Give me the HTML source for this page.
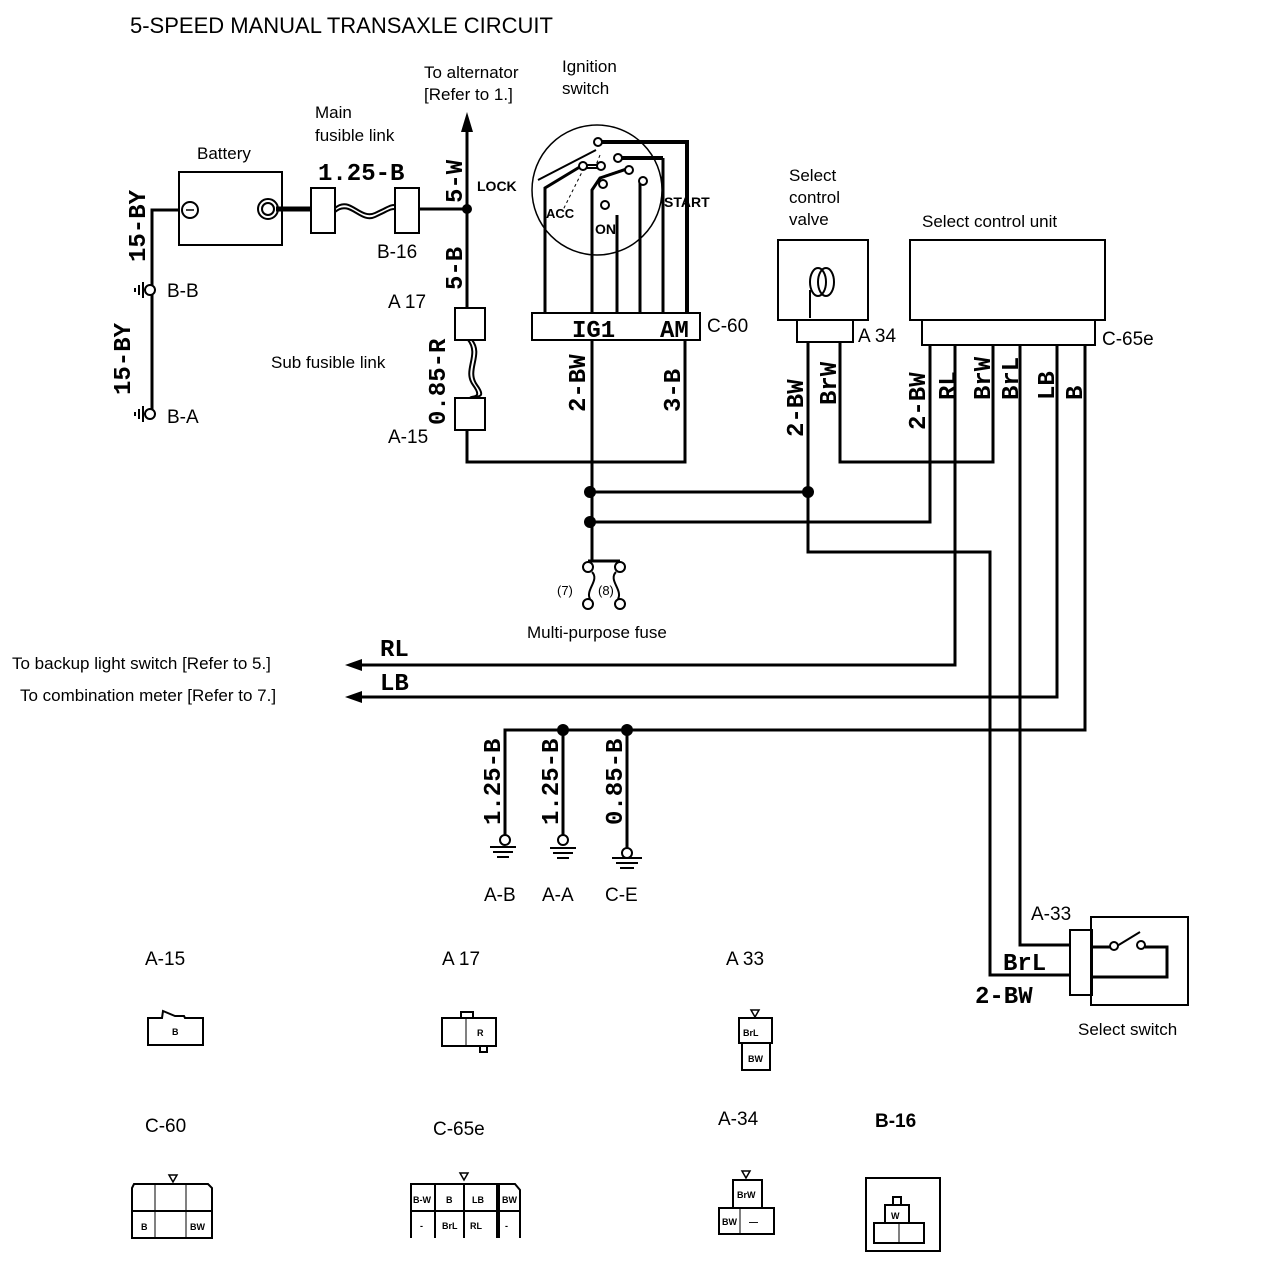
<!DOCTYPE html>
<html><head><meta charset="utf-8"><style>
html,body{margin:0;padding:0;background:#fff;}
svg{display:block;}
.t{font-family:"Liberation Sans",sans-serif;font-size:19px;fill:#000;}
.s{font-family:"Liberation Sans",sans-serif;font-size:17px;fill:#000;}
.w{font-family:"Liberation Mono",monospace;font-weight:bold;font-size:24px;fill:#000;}
.c{font-family:"Liberation Sans",sans-serif;font-size:9px;fill:#000;font-weight:bold;}
</style></head><body>
<svg width="1264" height="1278" viewBox="0 0 1264 1278" xmlns="http://www.w3.org/2000/svg">
<rect width="1264" height="1278" fill="#fff"/>
<text x="130" y="33" class="t" style="font-size:22px">5-SPEED MANUAL TRANSAXLE CIRCUIT</text>

<g fill="none" stroke="#000" stroke-width="3">
<rect x="179" y="172" width="103" height="73" stroke-width="2"/>
<circle cx="190" cy="210" r="8" stroke-width="2"/>
<line x1="186" y1="210" x2="194" y2="210" stroke-width="1.5"/>
<circle cx="268" cy="209" r="10" stroke-width="2"/>
<circle cx="268" cy="209" r="6" stroke-width="2"/>
<line x1="276" y1="209" x2="312" y2="209" stroke-width="5"/>
<polyline points="180,210 152,210 152,410"/>
<circle cx="150" cy="290" r="5" fill="#fff" stroke-width="2"/>
<circle cx="150" cy="414" r="5" fill="#fff" stroke-width="2"/>
<path d="M143 282v16M139 285v10M135 288v4M143 406v16M139 409v10M135 412v4" stroke-width="2"/>
<rect x="311" y="188" width="24" height="45" stroke-width="2"/>
<rect x="395" y="188" width="24" height="45" stroke-width="2"/>
<path d="M335 208 C350 195,360 220,375 213 S390 205,395 205" stroke-width="2"/>
<path d="M335 212 C350 199,360 224,375 217 S390 209,395 209" stroke-width="2"/>
<line x1="419" y1="209" x2="467" y2="209"/>
<line x1="467" y1="130" x2="467" y2="308"/>
<rect x="455" y="308" width="30" height="32" stroke-width="2"/>
<rect x="455" y="398" width="30" height="32" stroke-width="2"/>
<path d="M468 340 C480 355,462 370,473 385 S470 395,470 398" stroke-width="2"/>
<path d="M472 340 C484 355,466 370,477 385 S474 395,474 398" stroke-width="2"/>
<polyline points="467,430 467,462 685,462 685,340"/>
<circle cx="597" cy="190" r="65" stroke-width="1.5"/>
<polyline points="545,313 545,188 583,165"/>
<polyline points="592,313 592,190 600,178 630,168"/>
<line x1="617" y1="313" x2="617" y2="215"/>
<polyline points="640,313 640,182"/>
<line x1="663" y1="313" x2="663" y2="158"/>
<polyline points="617,158 663,158" stroke-width="4"/>
<polyline points="598,142 687,142 687,313" stroke-width="4"/>
<line x1="538" y1="180" x2="596" y2="150" stroke-width="2"/>
<line x1="584" y1="165" x2="600" y2="165" stroke-width="2"/>
<line x1="587" y1="168" x2="601" y2="168" stroke-width="2"/>
<line x1="605" y1="176" x2="628" y2="168" stroke-width="2"/>
<path d="M584 168 L563 210 M600 155 L596 165" stroke-width="1" stroke-dasharray="3,3"/>
<circle cx="598" cy="142" r="4" fill="#fff" stroke-width="2"/>
<circle cx="618" cy="158" r="4" fill="#fff" stroke-width="2"/>
<circle cx="583" cy="166" r="4" fill="#fff" stroke-width="2"/>
<circle cx="601" cy="166" r="4" fill="#fff" stroke-width="2"/>
<circle cx="603" cy="184" r="4" fill="#fff" stroke-width="2"/>
<circle cx="629" cy="170" r="4" fill="#fff" stroke-width="2"/>
<circle cx="643" cy="181" r="4" fill="#fff" stroke-width="2"/>
<circle cx="605" cy="205" r="4" fill="#fff" stroke-width="2"/>
<rect x="532" y="313" width="168" height="27" stroke-width="2"/>
<line x1="592" y1="340" x2="592" y2="560"/>
<line x1="590" y1="492" x2="808" y2="492"/>
<polyline points="590,522 930,522 930,345"/>
<line x1="588" y1="561" x2="620" y2="561" stroke-width="3"/>
<circle cx="588" cy="567" r="5" fill="#fff" stroke-width="2"/>
<circle cx="620" cy="567" r="5" fill="#fff" stroke-width="2"/>
<circle cx="588" cy="604" r="5" fill="#fff" stroke-width="2"/>
<circle cx="620" cy="604" r="5" fill="#fff" stroke-width="2"/>
<path d="M592 572 C600 580,585 590,590 599 M616 572 C608 580,623 590,618 599" stroke-width="2"/>
<rect x="778" y="240" width="90" height="80" stroke-width="2"/>
<ellipse cx="818" cy="282" rx="8" ry="14" stroke-width="2"/>
<ellipse cx="826" cy="282" rx="8" ry="14" stroke-width="2"/>
<polyline points="810,318 810,290 M834,318 834,290" stroke-width="2"/>
<rect x="797" y="320" width="56" height="22" stroke-width="2"/>
<polyline points="808,342 808,552 990,552 990,975 1070,975"/>
<polyline points="840,342 840,462 993,462 993,345"/>
<rect x="910" y="240" width="195" height="80" stroke-width="2"/>
<rect x="922" y="320" width="173" height="25" stroke-width="2"/>
<polyline points="955,345 955,665 350,665"/>
<polyline points="1057,345 1057,697 350,697"/>
<polyline points="1085,345 1085,730 505,730 505,835"/>
<polyline points="1020,345 1020,945 1070,945"/>
<line x1="563" y1="730" x2="563" y2="835"/>
<line x1="627" y1="730" x2="627" y2="850"/>
<circle cx="505" cy="840" r="5" fill="#fff" stroke-width="2"/>
<circle cx="563" cy="840" r="5" fill="#fff" stroke-width="2"/>
<circle cx="627" cy="853" r="5" fill="#fff" stroke-width="2"/>
<path d="M490 847h26M493 852h20M497 857h12M550 848h26M553 853h20M557 858h12M612 858h30M616 863h22M620 868h14" stroke-width="2"/>
<rect x="1091" y="917" width="97" height="88" stroke-width="2"/>
<rect x="1070" y="930" width="22" height="65" stroke-width="2"/>
<polyline points="1092,947 1110,947"/>
<line x1="1117" y1="946" x2="1140" y2="932" stroke-width="2"/>
<circle cx="1114" cy="946" r="4" fill="#fff" stroke-width="2"/>
<circle cx="1141" cy="945" r="4" fill="#fff" stroke-width="2"/>
<polyline points="1145,947 1167,947 1167,977 1092,977"/>
</g>
<polygon points="467,112 461,132 473,132" fill="#000"/>
<polygon points="345,665 362,659 362,671" fill="#000"/>
<polygon points="345,697 362,691 362,703" fill="#000"/>
<g fill="#000">
<circle cx="467" cy="209" r="5"/><circle cx="590" cy="492" r="6"/><circle cx="590" cy="522" r="6"/>
<circle cx="808" cy="492" r="6"/><circle cx="563" cy="730" r="6"/><circle cx="627" cy="730" r="6"/>
</g>

<text x="197" y="159" class="s">Battery</text>
<text x="315" y="118" class="s">Main</text>
<text x="315" y="141" class="s">fusible link</text>
<text x="318" y="180" class="w">1.25-B</text>
<text x="377" y="258" class="t">B-16</text>
<text x="424" y="78" class="s">To alternator</text>
<text x="424" y="100" class="s">[Refer to 1.]</text>
<text x="562" y="72" class="s">Ignition</text>
<text x="562" y="94" class="s">switch</text>
<text x="477" y="191" class="s" style="font-weight:bold;font-size:14px">LOCK</text>
<text x="546" y="218" class="s" style="font-weight:bold;font-size:13px">ACC</text>
<text x="595" y="234" class="s" style="font-weight:bold;font-size:14px">ON</text>
<text x="664" y="207" class="s" style="font-weight:bold;font-size:14px">START</text>
<text x="572" y="337" class="w">IG1</text>
<text x="660" y="337" class="w">AM</text>
<text x="707" y="332" class="t">C-60</text>
<text x="388" y="308" class="t">A 17</text>
<text x="388" y="443" class="t">A-15</text>
<text x="271" y="368" class="s">Sub fusible link</text>
<text x="167" y="423" class="t">B-A</text>
<text x="167" y="297" class="t">B-B</text>
<text transform="translate(145,262) rotate(-90)" class="w">15-BY</text>
<text transform="translate(130,395) rotate(-90)" class="w">15-BY</text>
<text transform="translate(462,203) rotate(-90)" class="w">5-W</text>
<text transform="translate(462,290) rotate(-90)" class="w">5-B</text>
<text transform="translate(445,425) rotate(-90)" class="w">0.85-R</text>
<text transform="translate(585,412) rotate(-90)" class="w">2-BW</text>
<text transform="translate(680,412) rotate(-90)" class="w">3-B</text>
<text x="789" y="181" class="s">Select</text>
<text x="789" y="203" class="s">control</text>
<text x="789" y="225" class="s">valve</text>
<text x="858" y="342" class="t">A 34</text>
<text x="922" y="227" class="s">Select control unit</text>
<text x="1102" y="345" class="t">C-65e</text>
<text transform="translate(803,437) rotate(-90)" class="w">2-BW</text>
<text transform="translate(836,405) rotate(-90)" class="w">BrW</text>
<text transform="translate(925,430) rotate(-90)" class="w">2-BW</text>
<text transform="translate(955,400) rotate(-90)" class="w">RL</text>
<text transform="translate(990,400) rotate(-90)" class="w">BrW</text>
<text transform="translate(1018,400) rotate(-90)" class="w">BrL</text>
<text transform="translate(1054,400) rotate(-90)" class="w">LB</text>
<text transform="translate(1082,400) rotate(-90)" class="w">B</text>
<text x="527" y="638" class="s">Multi-purpose fuse</text>
<text x="557" y="595" class="s" style="font-size:13px">(7)</text>
<text x="598" y="595" class="s" style="font-size:13px">(8)</text>
<text x="380" y="656" class="w">RL</text>
<text x="380" y="690" class="w">LB</text>
<text x="12" y="669" class="s">To backup light switch [Refer to 5.]</text>
<text x="20" y="701" class="s">To combination meter [Refer to 7.]</text>
<text transform="translate(500,825) rotate(-90)" class="w">1.25-B</text>
<text transform="translate(558,825) rotate(-90)" class="w">1.25-B</text>
<text transform="translate(622,825) rotate(-90)" class="w">0.85-B</text>
<text x="484" y="901" class="t">A-B</text>
<text x="542" y="901" class="t">A-A</text>
<text x="605" y="901" class="t">C-E</text>
<text x="1031" y="920" class="t">A-33</text>
<text x="1003" y="970" class="w">BrL</text>
<text x="975" y="1003" class="w">2-BW</text>
<text x="1078" y="1035" class="s">Select switch</text>

<text x="145" y="965" class="t">A-15</text>
<text x="442" y="965" class="t">A 17</text>
<text x="726" y="965" class="t">A 33</text>
<text x="145" y="1132" class="t">C-60</text>
<text x="433" y="1135" class="t">C-65e</text>
<text x="718" y="1125" class="t">A-34</text>
<text x="875" y="1127" class="t" style="font-weight:bold">B-16</text>
<g fill="none" stroke="#000" stroke-width="2">
<path d="M148 1045 V1018 H162 L163 1011 L175 1016 H184 L185 1018 H203 V1045 Z"/>
<rect x="442" y="1018" width="54" height="28"/>
<rect x="461" y="1012" width="12" height="6"/>
<rect x="480" y="1046" width="7" height="6"/>
<line x1="466" y1="1018" x2="466" y2="1046" stroke-width="1"/>
<rect x="739" y="1018" width="33" height="25"/>
<rect x="742" y="1043" width="28" height="27"/>
<polygon points="751,1010 759,1010 755,1017" stroke-width="1.5"/>
<path d="M132 1238 V1188 L134 1184 H208 L212 1188 V1238 Z"/>
<line x1="132" y1="1211" x2="212" y2="1211"/>
<line x1="155" y1="1184" x2="155" y2="1238" stroke-width="1"/>
<line x1="186" y1="1184" x2="186" y2="1238" stroke-width="1"/>
<polygon points="169,1175 177,1175 173,1182" stroke-width="1.5"/>
<path d="M411 1238 V1184 H499 V1238 M411 1211 H499 M435 1184 V1238 M464 1184 V1238 M497 1184 V1238 M498 1184 H515 L520 1190 V1238 M498 1211 H520"/>
<polygon points="460,1173 468,1173 464,1180" stroke-width="1.5"/>
<rect x="733" y="1180" width="29" height="28"/>
<rect x="719" y="1208" width="55" height="26"/>
<line x1="740" y1="1208" x2="740" y2="1234" stroke-width="1"/>
<polygon points="742,1171 750,1171 746,1178" stroke-width="1.5"/>
<rect x="866" y="1178" width="74" height="73"/>
<rect x="874" y="1223" width="50" height="20"/>
<line x1="899" y1="1223" x2="899" y2="1243" stroke-width="1"/>
<rect x="885" y="1205" width="24" height="18"/>
<rect x="893" y="1197" width="8" height="8"/>
</g>
<text x="172" y="1035" class="c">B</text>
<text x="477" y="1036" class="c">R</text>
<text x="743" y="1036" class="c">BrL</text>
<text x="748" y="1062" class="c">BW</text>
<text x="141" y="1230" class="c">B</text>
<text x="190" y="1230" class="c">BW</text>
<text x="413" y="1203" class="c">B-W</text>
<text x="446" y="1203" class="c">B</text>
<text x="472" y="1203" class="c">LB</text>
<text x="502" y="1203" class="c">BW</text>
<text x="420" y="1229" class="c">-</text>
<text x="442" y="1229" class="c">BrL</text>
<text x="470" y="1229" class="c">RL</text>
<text x="505" y="1229" class="c">-</text>
<text x="737" y="1198" class="c">BrW</text>
<text x="722" y="1225" class="c">BW</text>
<text x="749" y="1225" class="c">—</text>
<text x="891" y="1219" class="c">W</text>
</svg>
</body></html>
